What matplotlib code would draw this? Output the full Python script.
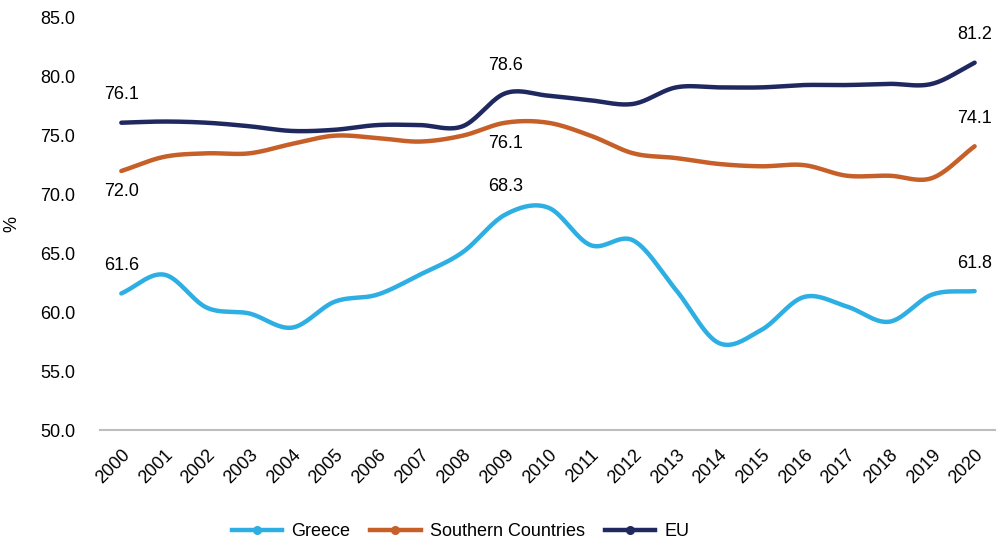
import numpy as np
import matplotlib
matplotlib.use('Agg')
import matplotlib.pyplot as plt

plt.rcParams['font.family'] = ['Liberation Sans', 'DejaVu Sans']

years = [str(y) for y in range(2000, 2021)]
greece = [61.6, 63.2, 60.4, 59.9, 58.7, 60.9, 61.5, 63.2, 65.1, 68.3, 68.9,
          65.7, 66.1, 61.9, 57.4, 58.5, 61.3, 60.5, 59.2, 61.5, 61.8]
southern = [72.0, 73.2, 73.5, 73.5, 74.3, 75.0, 74.8, 74.5, 75.0, 76.1, 76.1,
            75.0, 73.5, 73.1, 72.6, 72.4, 72.5, 71.6, 71.6, 71.4, 74.1]
eu = [76.1, 76.2, 76.1, 75.8, 75.4, 75.5, 75.9, 75.9, 75.8, 78.6, 78.4,
      78.0, 77.7, 79.1, 79.1, 79.1, 79.3, 79.3, 79.4, 79.4, 81.2]

# which points get a value label, and where (above / below)
labels_greece = {0: 'up', 9: 'up', 20: 'up'}
labels_southern = {0: 'down', 9: 'down', 20: 'up'}
labels_eu = {0: 'up', 9: 'up', 20: 'up'}


def smooth(y, n=20):
    # catmull-rom style smoothing like excel's smoothed line
    y = np.asarray(y, dtype=float)
    x = np.arange(len(y), dtype=float)
    p = np.concatenate([[2 * y[0] - y[1]], y, [2 * y[-1] - y[-2]]])
    xs, ys = [], []
    t = np.linspace(0, 1, n, endpoint=False)
    for i in range(len(y) - 1):
        p0, p1, p2, p3 = p[i], p[i + 1], p[i + 2], p[i + 3]
        yy = 0.5 * ((2 * p1) + (-p0 + p2) * t + (2 * p0 - 5 * p1 + 4 * p2 - p3) * t ** 2
                    + (-p0 + 3 * p1 - 3 * p2 + p3) * t ** 3)
        xs.append(x[i] + t)
        ys.append(yy)
    xs.append([x[-1]])
    ys.append([y[-1]])
    return np.concatenate(xs), np.concatenate(ys)


fig = plt.figure(figsize=(10.03, 5.43), dpi=100)
ax = fig.add_axes([0.0997, 0.208, 0.892, 0.759])

series = [('Greece', greece, '#2EAFE4', labels_greece),
          ('Southern Countries', southern, '#C65F28', labels_southern),
          ('EU', eu, '#1F2960', labels_eu)]

x = np.arange(len(years))
for name, vals, col, labs in series:
    sx, sy = smooth(vals)
    ax.plot(sx, sy, color=col, lw=3.2, solid_capstyle='round')
    # proxy for legend (line with dot marker)
    ax.plot([], [], color=col, lw=3.2, marker='o', markersize=5.5, label=name)
    for i, pos in labs.items():
        off = 14 if pos == 'up' else -9
        ax.annotate('{:.1f}'.format(vals[i]), (x[i], vals[i]), xytext=(0, off),
                    textcoords='offset points', ha='center',
                    va='bottom' if pos == 'up' else 'top', fontsize=13)

ax.set_xlim(-0.5, 20.47)
ax.set_ylim(50, 85)
ax.set_yticks(np.arange(50, 86, 5))
ax.set_yticklabels(['{:.1f}'.format(v) for v in np.arange(50, 86, 5)])
ax.set_xticks(x)
ax.set_xticklabels(years, rotation=45, ha='right', rotation_mode='anchor')
ax.tick_params(axis='y', length=0, pad=18, labelsize=13)
ax.tick_params(axis='x', length=0, pad=12, labelsize=13)
ax.set_ylabel('%', fontsize=13, labelpad=14)

for s in ['top', 'right', 'left']:
    ax.spines[s].set_visible(False)
ax.spines['bottom'].set_color('#BDBDBD')
ax.spines['bottom'].set_linewidth(1.5)

fig.legend(loc='lower center', bbox_to_anchor=(0.459, -0.025), ncol=3, frameon=False,
           fontsize=13, handlelength=2.8, columnspacing=1.1, handletextpad=0.5)

plt.savefig('out.png', dpi=100)
